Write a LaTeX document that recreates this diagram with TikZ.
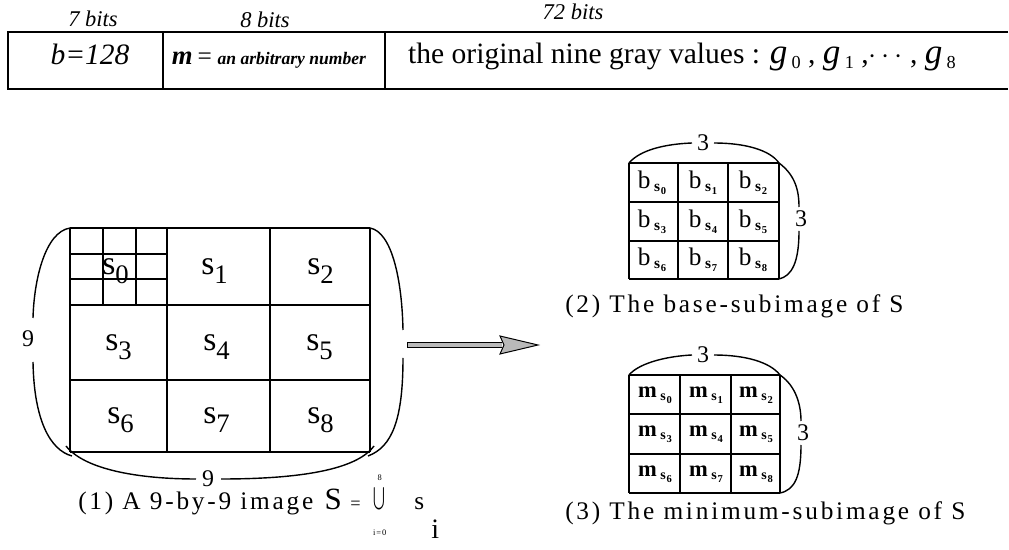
\documentclass[tikz,border=0pt]{standalone}
\usepackage{fontspec}
\usepackage{graphicx}
\setmainfont{Liberation Serif}
\newfontfamily\capfont[LetterSpace=11]{Liberation Serif}
\usetikzlibrary{positioning,calc}

% one cell of a subimage: letter, small bold s and its index
\newcommand{\subcell}[3]{#1\hspace{2.5pt}\raisebox{-2pt}{\fontsize{#3}{#3}\selectfont\bfseries s\hspace{0.6pt}\raisebox{-2pt}{\fontsize{7.5}{7.5}\selectfont #2}}}
\newcommand{\gval}[1]{{\fontsize{25}{25}\selectfont\itshape g}\hspace{3pt}\raisebox{-3pt}{\fontsize{13}{13}\selectfont #1}}

\begin{document}
\begin{tikzpicture}[
  x=0.025cm, y=-0.025cm,
  gridline/.style={line width=1.3pt},
  thinline/.style={line width=0.9pt},
  brace/.style={line width=1pt},
  bitlbl/.style={font=\fontsize{16}{18}\selectfont\itshape, anchor=base},
  fieldlbl/.style={font=\fontsize{21}{24}\selectfont, anchor=base},
  slbl/.style={font=\fontsize{24}{24}\selectfont, anchor=base west, inner sep=0pt},
  cellb/.style={font=\fontsize{18}{18}\selectfont},
  cellm/.style={font=\fontsize{16}{16}\selectfont\bfseries},
  dimlbl/.style={font=\fontsize{17}{17}\selectfont, inner sep=0pt},
  captxt/.style={font=\fontsize{18}{20}\selectfont\capfont, anchor=base west, inner sep=0pt}
]
\useasboundingbox (0,0) rectangle (1009,550);

% packet layout: 7 + 8 + 72 bits, open on the right
\draw[gridline] (1008,32) -- (8,32) -- (8,89) -- (1008,89);
\draw[gridline] (163,32) -- (163,89) (385,32) -- (385,89);
\node[bitlbl] (bits7) at (93,27) {7 bits};
\node[bitlbl] (bits8) at (265,28) {8 bits};
\node[bitlbl] (bits72) at (573,20) {72 bits};
\node[fieldlbl] (fb) at (90,65) {\itshape b=128};
\node[fieldlbl] (fm) at (269,65) {{\fontsize{19}{19}\selectfont\bfseries\itshape m}\,{\fontsize{18}{18}\selectfont =}\hspace{4pt}{\fontsize{12.5}{12.5}\selectfont\bfseries\itshape an arbitrary number}};
\node[fieldlbl] (fg) at (682,64) {the original nine gray values : \gval{0} , \gval{1} ,$\cdots$ , \gval{8}};

% the 9-by-9 image, s_0 split into its 3-by-3 pixels
\foreach \x in {70,167,270,370} \draw[gridline] (\x,228) -- (\x,452);
\foreach \y in {228,305,380,452} \draw[gridline] (70,\y) -- (370,\y);
\foreach \x in {103,136} \draw[thinline] (\x,228) -- (\x,305);
\foreach \y in {254,279} \draw[thinline] (70,\y) -- (167,\y);
\foreach \i/\x/\y in {0/102/275,1/201/275,2/307/275,3/105/351,4/203/351,5/306/351,6/107/424,7/203/424,8/307/424}
  \node[slbl] (s\i) at (\x,\y) {s\raisebox{-6pt}{\fontsize{19}{19}\selectfont\i}};

\node[dimlbl] (nineL) at (28,339) {9};
\node[dimlbl] (nineB) at (208,479) {9};
\draw[brace] (70,228) .. controls (45,232) and (34,280) .. (33,318);
\draw[brace] (33,362) .. controls (34,420) and (50,450) .. (72,456);
\draw[brace] (370,228) .. controls (392,232) and (402,280) .. (403,330);
\draw[brace] (403,358) .. controls (403,420) and (392,447) .. (368,456);
\draw[brace] (66,446) .. controls (85,470) and (140,479) .. (196,479);
\draw[brace] (221,479) .. controls (290,479) and (355,472) .. (374,446);

% arrow to the two subimages
\coordinate (arrS) at (407,345);
\coordinate (arrE) at (538,345);
\draw[line width=4.6pt, shorten >=0.9cm] (arrS) -- (arrE);
\draw[line width=3pt, gray!55, shorten >=0.9cm, shorten <=0.6pt] (arrS) -- (arrE);
\filldraw[fill=gray!55, line width=0.7pt] ($(arrE)+(-38,-9)$) -- (arrE) -- ($(arrE)+(-38,9)$) -- ($(arrE)+(-34,0)$) -- cycle;

% base-subimage
\foreach \x in {629,678,728,779} \draw[gridline] (\x,163) -- (\x,279);
\foreach \y in {163,202,241,279} \draw[gridline] (629,\y) -- (779,\y);
\foreach \i/\x/\y in {0/652/183,1/703/183,2/753/183,3/652/222,4/703/222,5/753/222,6/652/260,7/703/260,8/753/260}
  \node[cellb] (b\i) at (\x,\y) {\subcell{b}{\i}{11}};
\node[dimlbl] (threeTb) at (703,143) {3};
\node[dimlbl] (threeRb) at (801,219) {3};
\draw[brace] (629,163) .. controls (640,150) and (665,144) .. (692,143);
\draw[brace] (714,143) .. controls (745,143) and (770,150) .. (779,163) .. controls (795,175) and (799,190) .. (799,207);
\draw[brace] (799,231) .. controls (799,262) and (792,276) .. (779,279);
\node[captxt] (capB) at (565,313) {(2) The base-subimage of S};

% minimum-subimage
\foreach \x in {629,680,731,780} \draw[gridline] (\x,375) -- (\x,493);
\foreach \y in {375,414,454,493} \draw[gridline] (629,\y) -- (780,\y);
\foreach \i/\x/\y in {0/655/395,1/706/395,2/756/395,3/655/434,4/706/434,5/756/434,6/655/474,7/706/474,8/756/474}
  \node[cellm] (m\i) at (\x,\y) {\subcell{m}{\i}{10}};
\node[dimlbl] (threeTm) at (703,355) {3};
\node[dimlbl] (threeRm) at (803,433) {3};
\draw[brace] (629,375) .. controls (640,362) and (670,356) .. (692,355);
\draw[brace] (714,355) .. controls (745,355) and (770,362) .. (780,375) .. controls (796,386) and (801,405) .. (801,421);
\draw[brace] (801,445) .. controls (801,476) and (795,490) .. (780,493);
\node[captxt] (capM) at (565,520) {(3) The minimum-subimage of S};

% caption of the image, S as the union of the s_i
\node[captxt] (capS) at (78,510) {(1) A 9-by-9 image\hspace{8pt}{\fontsize{22}{22}\selectfont S}\hspace{6pt}{\fontsize{13}{13}\selectfont =}};
\node[captxt] (capU) at ($(capS.base east)+(12,0)$) {{\fontsize{20}{20}\selectfont$\mathop{\scalebox{1}[1.6]{$\bigcup$}}\limits_{\raisebox{-12pt}{\fontsize{6}{6}\selectfont i=0}}^{\raisebox{3pt}{\fontsize{6}{6}\selectfont 8}}$}\hspace{20pt}s\hspace{5pt}\raisebox{-20pt}{\fontsize{20}{20}\selectfont i}};
\end{tikzpicture}
\end{document}
